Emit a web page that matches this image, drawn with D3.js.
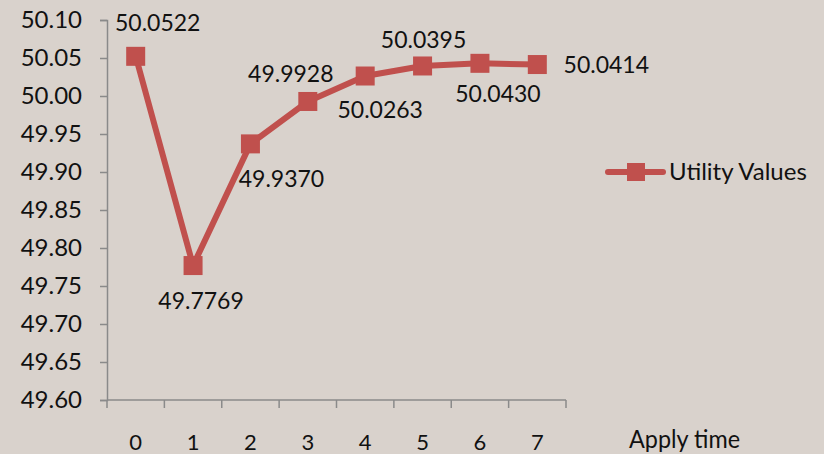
<!DOCTYPE html>
<html>
<head>
<meta charset="utf-8">
<script src="https://cdn.jsdelivr.net/npm/d3@7/dist/d3.min.js"></script>
<style>
  html, body { margin: 0; padding: 0; background: #d9d2cc; }
  svg { display: block; }
  text { font-family: Lato, "Open Sans", sans-serif; fill: #111; }
</style>
</head>
<body>
<svg id="chart" width="824" height="454"></svg>
<script>
// Utility value per application round
const categories = ["0", "1", "2", "3", "4", "5", "6", "7"];
const utilityValues = [50.0522, 49.7769, 49.9370, 49.9928, 50.0263, 50.0395, 50.0430, 50.0414];
const yTicks = [49.60, 49.65, 49.70, 49.75, 49.80, 49.85, 49.90, 49.95, 50.00, 50.05, 50.10];
const seriesName = "Utility Values";
const xAxisTitle = "Apply time";

// Label placement relative to each point: [dx of text centre, dy of baseline]
const labelOffsets = [[22, -25], [8, 43], [31, 43], [-17, -19], [15, 42], [1, -18], [18, 39], [69, 8]];

const svg = d3.select("#chart");
const red = "#c0504d";
const axisGrey = "#8a8a8a";

const plot = { left: 107, right: 566, top: 20, bottom: 400 };

const x = d3.scaleBand().domain(categories).range([plot.left, plot.right]);
const y = d3.scaleLinear().domain([49.60, 50.10]).range([plot.bottom, plot.top]);

// Y axis
const yAxis = svg.append("g")
  .attr("transform", `translate(${plot.left},0)`)
  .call(d3.axisLeft(y).tickValues(yTicks).tickFormat(d3.format(".2f")).tickSize(7).tickPadding(18));
yAxis.select(".domain").attr("stroke", axisGrey).attr("stroke-width", 1.5);
yAxis.selectAll(".tick line").attr("stroke", axisGrey).attr("stroke-width", 1.5);
yAxis.selectAll(".tick text").attr("font-size", 24).attr("font-family", "Lato").attr("fill", "#111");

// X axis: line, ticks at category boundaries, labels centred in each band
svg.append("line")
  .attr("x1", plot.left).attr("x2", plot.right)
  .attr("y1", plot.bottom).attr("y2", plot.bottom)
  .attr("stroke", axisGrey).attr("stroke-width", 1.5);
const boundaries = categories.map(c => x(c)).concat([x(categories[categories.length - 1]) + x.bandwidth()]);
svg.append("g").selectAll("line").data(boundaries).join("line")
  .attr("x1", d => d).attr("x2", d => d)
  .attr("y1", plot.bottom).attr("y2", plot.bottom + 8)
  .attr("stroke", axisGrey).attr("stroke-width", 1.5);
svg.append("g").selectAll("text").data(categories).join("text")
  .attr("x", d => x(d) + x.bandwidth() / 2)
  .attr("y", 450)
  .attr("text-anchor", "middle")
  .attr("font-size", 22)
  .text(d => d);

// Axis title (condensed)
svg.append("text")
  .attr("x", 629).attr("y", 448)
  .attr("font-size", 25)
  .attr("textLength", 111)
  .attr("lengthAdjust", "spacingAndGlyphs")
  .attr("fill", "#222")
  .text(xAxisTitle);

// Series
const pts = utilityValues.map((v, i) => ({ v, cx: x(categories[i]) + x.bandwidth() / 2, cy: y(v), i }));

svg.append("path")
  .datum(pts)
  .attr("fill", "none")
  .attr("stroke", red)
  .attr("stroke-width", 6)
  .attr("stroke-linejoin", "round")
  .attr("d", d3.line().x(d => d.cx).y(d => d.cy));

const mk = 19;
svg.append("g").selectAll("rect").data(pts).join("rect")
  .attr("x", d => d.cx - mk / 2).attr("y", d => d.cy - mk / 2)
  .attr("width", mk).attr("height", mk)
  .attr("fill", red);

svg.append("g").selectAll("text").data(pts).join("text")
  .attr("x", d => d.cx + labelOffsets[d.i][0])
  .attr("y", d => d.cy + labelOffsets[d.i][1])
  .attr("text-anchor", "middle")
  .attr("font-size", 23)
  .text(d => d.v.toFixed(4));

// Legend
const lg = svg.append("g").attr("transform", "translate(608,172)");
lg.append("line").attr("x1", 0).attr("x2", 55).attr("y1", 0).attr("y2", 0)
  .attr("stroke", red).attr("stroke-width", 6).attr("stroke-linecap", "round");
lg.append("rect").attr("x", 19).attr("y", -9).attr("width", 18).attr("height", 18).attr("fill", red);
lg.append("text").attr("x", 61).attr("y", 8).attr("font-size", 24).text(seriesName);
</script>
</body>
</html>
